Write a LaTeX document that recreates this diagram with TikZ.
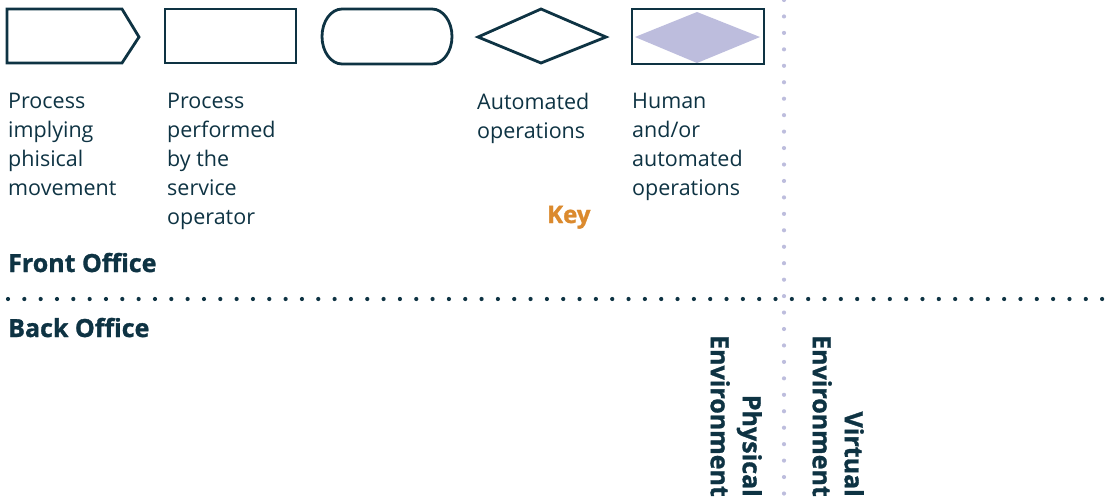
\documentclass[tikz,border=0pt]{standalone}
\usepackage{fontspec}
\setmainfont{Open Sans}
\newfontfamily\heavyfont{Open Sans}[UprightFont=* Bold, FakeBold=1.2]
\definecolor{navy}{HTML}{0E3343}
\definecolor{lilac}{HTML}{BDBDDD}
\definecolor{keyorange}{HTML}{DB8A2E}
\tikzset{
  shapeline/.style={draw=navy, line width=2.8pt, line join=miter, fill=white},
  keytext/.style={text=navy, font=\fontsize{21.5}{29}\selectfont, align=left, anchor=north west, inner sep=0pt},
  heading/.style={text=navy, font=\heavyfont\fontsize{25}{30}\selectfont, anchor=base west, inner sep=0pt},
  envtext/.style={text=navy, font=\heavyfont\fontsize{25}{32}\selectfont, align=right, rotate=-90, anchor=north east, inner sep=0pt},
  ldot/.style={fill=lilac, draw=none},
  ndot/.style={fill=navy, draw=none}
}
\begin{document}
\begin{tikzpicture}[x=1pt,y=-1pt]
\useasboundingbox (0,0) rectangle (1113,501);
% vertical lilac dotted line
\foreach \k in {0,...,30} {\fill[ldot] (784,{\k*16.45}) circle (2.1);}
% horizontal navy dotted line
\foreach \k in {0,...,67} {\fill[ndot] ({8+\k*16.33},299) circle (2.1);}
% key shapes
\draw[shapeline] (7,9) -- (122,9) -- (139,37) -- (122,63) -- (7,63) -- cycle;
\draw[shapeline] (165,9) rectangle (296,63);
\draw[shapeline] (342,9) -- (432,9)
  .. controls (443,9) and (452,21.3) .. (452,36.5)
  .. controls (452,51.7) and (443,64) .. (432,64)
  -- (342,64)
  .. controls (331,64) and (322,51.7) .. (322,36.5)
  .. controls (322,21.3) and (331,9) .. (342,9) -- cycle;
\draw[shapeline] (478,37) -- (541,9) -- (606,37) -- (541,63) -- cycle;
\draw[shapeline] (632,9) rectangle (764,64);
\fill[lilac] (635,37) -- (697,12) -- (760,37) -- (697,63) -- cycle;
% key labels
\node[keytext] (k1) at (8,93) {Process\\implying\\phisical\\movement};
\node[keytext] (k2) at (167,93) {Process\\performed\\by the\\service\\operator};
\node[keytext] (k3) at (477,93) {Automated\\operations};
\node[keytext] (k4) at (632,93) {Human\\and/or\\automated\\operations};
\node[heading, text=keyorange, font=\heavyfont\fontsize{24}{28}\selectfont] (key) at (547,223) {Key};
\node[heading] (front) at (8,272) {Front Office};
\node[heading] (back) at (8,337) {Back Office};
\node[envtext] (phys) at (762,497) {Physical\\Environment};
\node[envtext] (virt) at (864,497) {Virtual\\Environment};
\end{tikzpicture}
\end{document}
